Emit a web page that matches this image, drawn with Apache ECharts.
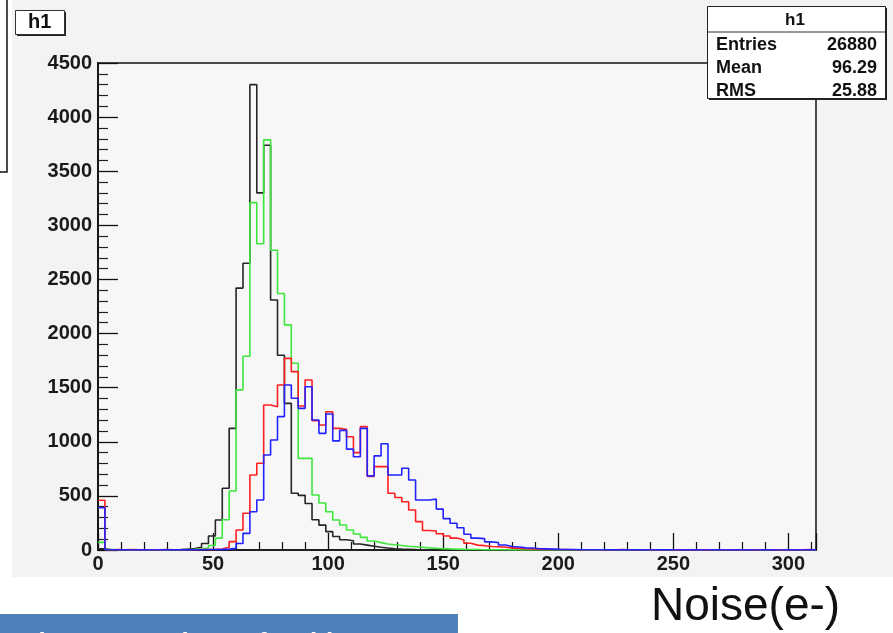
<!DOCTYPE html>
<html>
<head>
<meta charset="utf-8">
<title>h1</title>
<script src="https://cdn.jsdelivr.net/npm/echarts@6/dist/echarts.min.js"></script>
<style>
  html, body { margin: 0; padding: 0; background: #fff; }
  #chart { width: 893px; height: 633px; }
</style>
</head>
<body>
<div id="chart"></div>
<script>
// histogram bins: width 3, range 0 - 312 (104 bins)
const binWidth = 3
const xMax = 312

const black = [
  12, 2, 0, 1, 0, 2, 1, 0, 2, 1,
  3, 5, 8, 14, 25, 60, 130, 277, 570, 1124,
  2420, 2650, 4300, 3300, 3740, 2310, 1800, 1355, 525, 505,
  430, 280, 230, 170, 125, 95, 85, 55, 45, 35,
  25, 18, 12, 8, 6, 4, 3, 2, 2, 1,
  1, 0, 1, 0, 0, 1, 0, 0, 1, 0,
  0, 0, 1, 0, 0, 0, 1, 0, 0, 0,
  0, 1, 0, 0, 0, 0, 0, 1, 0, 0,
  0, 0, 0, 0, 1, 0, 0, 0, 0, 0,
  1, 0, 0, 0, 0, 0, 0, 1, 0, 0,
  0, 0, 0, 0
]
const green = [
  70, 4, 2, 3, 1, 2, 0, 1, 2, 1,
  2, 3, 4, 6, 10, 18, 42, 110, 280, 545,
  1480, 1790, 3210, 2830, 3790, 2770, 2370, 2080, 1725, 847,
  847, 508, 434, 354, 277, 231, 185, 148, 117, 83,
  68, 55, 48, 42, 35, 30, 25, 20, 16, 13,
  10, 8, 6, 5, 4, 3, 3, 2, 2, 1,
  2, 1, 1, 0, 1, 2, 1, 0, 1, 0,
  1, 0, 2, 0, 1, 0, 0, 1, 0, 2,
  0, 1, 0, 0, 1, 0, 1, 0, 0, 1,
  0, 0, 1, 0, 0, 1, 0, 0, 1, 0,
  0, 1, 0, 0
]
const red = [
  460, 3, 5, 2, 4, 1, 3, 2, 1, 4,
  2, 3, 2, 3, 4, 5, 6, 9, 25, 77,
  185, 339, 693, 801, 1340, 1324, 1525, 1771, 1648, 1330,
  1571, 1195, 1155, 1278, 1124, 1115, 1047, 900, 1140, 680,
  770, 770, 524, 485, 446, 370, 262, 180, 175, 150,
  130, 110, 92, 62, 45, 40, 32, 30, 25, 20,
  15, 12, 10, 8, 6, 5, 4, 4, 3, 3,
  2, 3, 2, 1, 2, 4, 2, 1, 3, 2,
  1, 2, 3, 1, 2, 1, 0, 2, 1, 3,
  2, 1, 0, 2, 1, 3, 2, 1, 0, 2,
  1, 2, 4, 3
]
const blue = [
  390, 2, 1, 3, 0, 2, 1, 0, 2, 1,
  1, 2, 1, 2, 3, 4, 5, 6, 8, 15,
  60, 154, 354, 462, 878, 1016, 1232, 1525, 1402, 1309,
  1509, 1201, 1078, 1257, 1008, 1105, 932, 862, 1124, 685,
  870, 982, 693, 693, 755, 647, 462, 462, 470, 378,
  290, 247, 205, 145, 110, 105, 75, 70, 46, 32,
  28, 20, 18, 12, 10, 8, 6, 5, 4, 3,
  3, 2, 2, 1, 2, 1, 1, 2, 1, 0,
  1, 2, 1, 0, 1, 1, 2, 0, 1, 1,
  0, 1, 2, 1, 0, 1, 3, 1, 0, 1,
  2, 0, 1, 1
]

const statLabels = ['Entries', 'Mean', 'RMS']
const statValues = ['26880', '96.29', '25.88']

const font = 'Liberation Sans, Arial, Helvetica, sans-serif'

// bin left edges -> step points, plus a closing point at the right edge
function toSteps(arr) {
  let pts = []
  for (let i = 0; i < arr.length; i++) {
    pts.push([i * binWidth, arr[i]])
  }
  pts.push([xMax, arr[arr.length - 1]])
  return pts
}

function histSeries(name, arr, color) {
  return {
    name: name,
    type: 'line',
    step: 'end',
    showSymbol: false,
    symbol: 'none',
    data: toSteps(arr),
    lineStyle: { color: color, width: 1.6 },
    itemStyle: { color: color },
  }
}

let chart = echarts.init(document.getElementById('chart'), null, { renderer: 'canvas' })

let statTexts = []
for (let i = 0; i < statLabels.length; i++) {
  statTexts.push({
    type: 'text', left: 716, top: 36 + i * 23, z: 30,
    style: { text: statLabels[i], font: 'bold 18px ' + font, fill: '#111' },
  })
  statTexts.push({
    type: 'text', right: 16, top: 36 + i * 23, z: 30,
    style: { text: statValues[i], font: 'bold 18px ' + font, fill: '#111', textAlign: 'right' },
  })
}

let option = {
  animation: false,
  backgroundColor: '#f3f3f3',
  grid: {
    left: 98, top: 63, width: 718, height: 487,
    show: true,
    backgroundColor: '#f7f7f7',
    borderColor: '#4a4a4a',
    borderWidth: 2,
  },
  xAxis: {
    type: 'value',
    min: 0,
    max: xMax,
    interval: 50,
    axisLine: { show: true, lineStyle: { color: '#111', width: 1.5 } },
    axisTick: { show: true, inside: true, length: 17, lineStyle: { color: '#111', width: 1.3 } },
    minorTick: { show: true, splitNumber: 5, length: 8, lineStyle: { color: '#111', width: 1.2 } },
    axisLabel: {
      showMaxLabel: false,
      margin: 4,
      fontSize: 20,
      fontWeight: 'bold',
      fontFamily: font,
      color: '#1a1a1a',
      formatter: function (value) {
        return String(value)
      },
    },
    splitLine: { show: false },
  },
  yAxis: {
    type: 'value',
    min: 0,
    max: 4500,
    interval: 500,
    axisLine: { show: true, lineStyle: { color: '#111', width: 1.8 } },
    axisTick: { show: true, inside: true, length: 20, lineStyle: { color: '#111', width: 1.3 } },
    minorTick: { show: true, splitNumber: 5, length: 10, lineStyle: { color: '#222', width: 1.2 } },
    axisLabel: {
      margin: 6,
      fontSize: 20,
      fontWeight: 'bold',
      fontFamily: font,
      color: '#1a1a1a',
      formatter: function (value) {
        return String(value)
      },
    },
    splitLine: { show: false },
  },
  series: [
    histSeries('black', black, '#262626'),
    histSeries('green', green, '#3ee63e'),
    histSeries('red', red, '#ff1f1f'),
    histSeries('blue', blue, '#2323ff'),
  ],
  graphic: [
    // white margins round the ROOT canvas
    { type: 'rect', left: 0, top: 0, shape: { width: 12, height: 633 }, style: { fill: '#fff' }, z: 1 },
    { type: 'rect', left: 0, top: 577, shape: { width: 893, height: 56 }, style: { fill: '#fff' }, z: 1 },
    // piece of a box at the far left
    { type: 'polyline', shape: { points: [[7, 0], [7, 172], [0, 172]] }, style: { stroke: '#111', lineWidth: 1.5, fill: null }, z: 2 },
    // title box
    { type: 'rect', left: 17, top: 12, shape: { width: 49, height: 24 }, style: { fill: '#222' }, z: 20 },
    { type: 'rect', left: 15, top: 10, shape: { width: 49, height: 24 }, style: { fill: '#fff', stroke: '#333', lineWidth: 1 }, z: 21 },
    { type: 'text', left: 28, top: 12, z: 22, style: { text: 'h1', font: 'bold 20px ' + font, fill: '#111' } },
    // stats box
    { type: 'rect', left: 709, top: 8, shape: { width: 178, height: 92 }, style: { fill: '#222' }, z: 20 },
    { type: 'rect', left: 707, top: 6, shape: { width: 178, height: 92 }, style: { fill: '#fff', stroke: '#222', lineWidth: 1 }, z: 21 },
    { type: 'line', shape: { x1: 707, y1: 32, x2: 885, y2: 32 }, style: { stroke: '#333', lineWidth: 1.2 }, z: 22 },
    { type: 'text', left: 785, top: 12, z: 30, style: { text: 'h1', font: 'bold 17px ' + font, fill: '#111' } },
    ...statTexts,
    // x axis title
    { type: 'text', left: 651, top: 584, z: 5, style: { text: 'Noise(e-)', font: '46px ' + font, fill: '#111' } },
    // caption strip at the bottom, mostly cut off by the page edge
    { type: 'rect', left: 0, top: 614, shape: { width: 458, height: 19 }, style: { fill: '#4f81bd' }, z: 5 },
    { type: 'text', left: 10, top: 631, z: 6, style: { text: 'Tab.1 Comparison of 4 chips', font: 'bold 26px ' + font, fill: '#fff' } },
  ],
}

chart.setOption(option)
window.addEventListener('resize', () => {
  chart.resize()
})
</script>
</body>
</html>
